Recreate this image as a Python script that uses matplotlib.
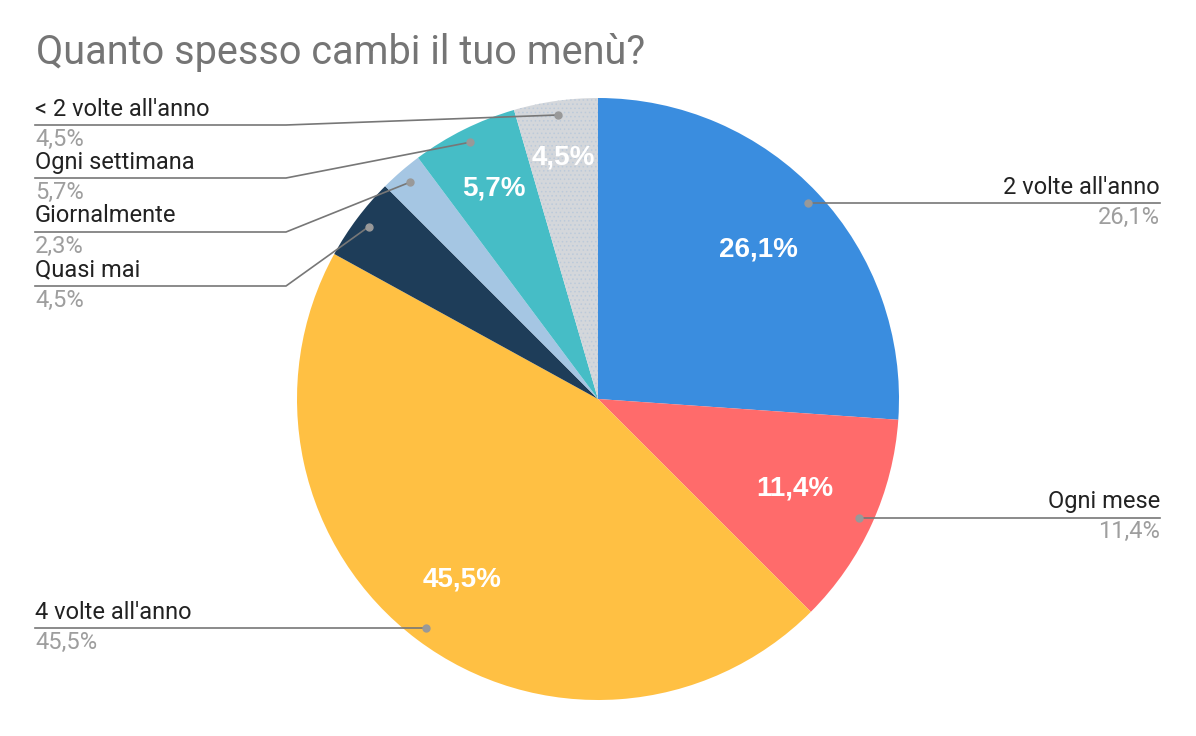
import numpy as np
from matplotlib import pyplot as plt

plt.rcParams["font.family"] = ["Roboto", "DejaVu Sans"]

title = "Quanto spesso cambi il tuo menù?"
categories = ["2 volte all'anno", "Ogni mese", "4 volte all'anno", "Quasi mai",
              "Giornalmente", "Ogni settimana", "< 2 volte all'anno"]
values = [26.1, 11.4, 45.5, 4.5, 2.3, 5.7, 4.5]
colors = ["#3a8ddf", "#ff6b6b", "#ffc043", "#1e3d59", "#a5c6e3", "#46bdc6", "#d4d7db"]
show_inside = [True, True, True, False, False, True, True]

W, H = 1196, 736
cx, cy, r = 598, H - 399, 301

fig = plt.figure(figsize=(W / 100, H / 100), dpi=100)
ax = fig.add_axes([0, 0, 1, 1])

plt.rcParams["hatch.linewidth"] = 0.6
wedges, _ = ax.pie(values, colors=colors, startangle=90, counterclock=False,
                   center=(cx, cy), radius=r, frame=True,
                   wedgeprops=dict(linewidth=0))
# dotted texture on the grey slice
wedges[6].set_hatch("....")
wedges[6].set_edgecolor("#bccada")

ax.set_xlim(0, W)
ax.set_ylim(0, H)
ax.set_aspect("equal")
ax.axis("off")

def fmt(v):
    return f"{v:.1f}".replace(".", ",") + "%"

# inner percentages
inner_dist = [0.73, 0.72, 0.75, 0.78, 0.78, 0.78, 0.81]
for w, v, show, d in zip(wedges, values, show_inside, inner_dist):
    if not show:
        continue
    ang = np.deg2rad((w.theta1 + w.theta2) / 2)
    ax.text(cx + d * r * np.cos(ang), cy + d * r * np.sin(ang), fmt(v),
            color="white", fontsize=20, fontweight="bold", ha="center", va="center",
            family=["Liberation Sans", "DejaVu Sans"])

# leader lines and outside labels
line_c = "#777777"
fs = 17
# label side / line y (pixels from top); None = use dot height
label_pos = {
    0: ("right", None),
    1: ("right", None),
    2: ("left", None),
    3: ("left", 286),
    4: ("left", 232),
    5: ("left", 178),
    6: ("left", 125),
}
for i, (w, v, name) in enumerate(zip(wedges, values, categories)):
    ang = np.deg2rad((w.theta1 + w.theta2) / 2)
    dx, dy = cx + 0.953 * r * np.cos(ang), cy + 0.953 * r * np.sin(ang)
    side, ly = label_pos[i]
    ax.plot(dx, dy, "o", color="#999999", markersize=5, zorder=5)
    if side == "right":
        ax.plot([dx, 1160], [dy, dy], color=line_c, lw=1.2)
        ax.text(1160, dy + 16, name, ha="right", va="center", fontsize=fs, color="#222222")
        ax.text(1160, dy - 14, fmt(v), ha="right", va="center", fontsize=fs, color="#9e9e9e")
    else:
        yy = dy if ly is None else H - ly
        if ly is None:
            ax.plot([35, dx], [yy, yy], color=line_c, lw=1.2)
        else:
            ax.plot([35, 286, dx], [yy, yy, dy], color=line_c, lw=1.2)
        ax.text(35, yy + 16, name, ha="left", va="center", fontsize=fs, color="#222222")
        ax.text(35, yy - 14, fmt(v), ha="left", va="center", fontsize=fs, color="#9e9e9e")

ax.text(36, H - 53, title, ha="left", va="center", fontsize=28.5, color="#757575")

fig.savefig("out.png", dpi=100)
